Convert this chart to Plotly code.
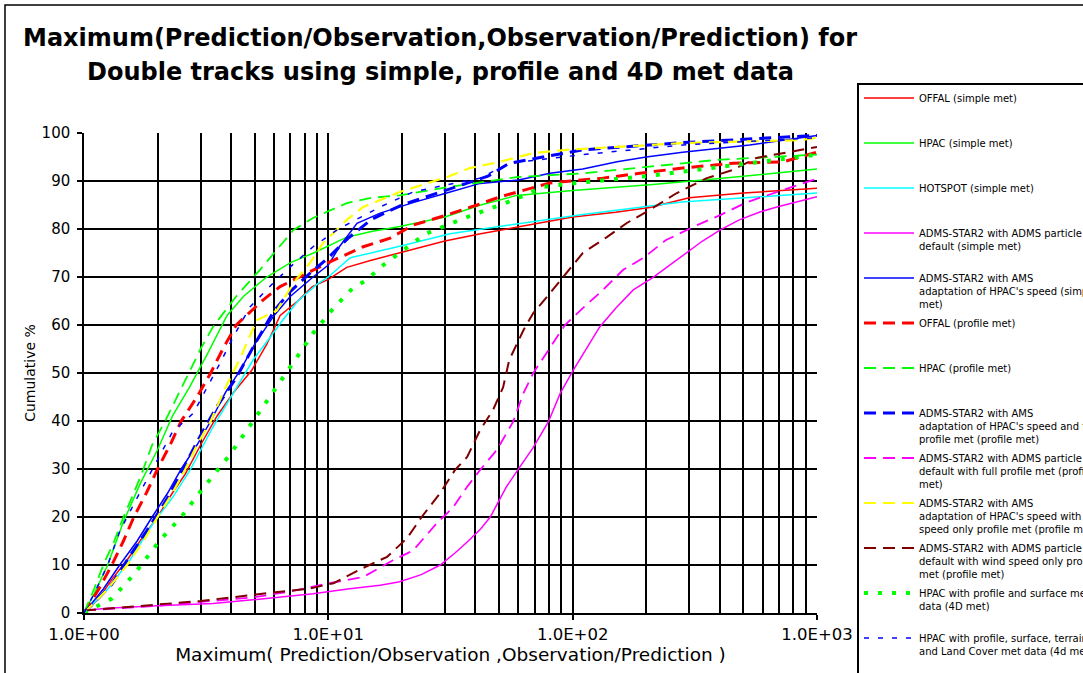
import plotly.graph_objects as go

# ---------------- data ----------------
offal_simple_x = [1, 1.15, 1.3, 1.5, 1.75, 2.0, 2.3, 2.6, 3.0, 3.5, 4.1, 4.85, 5.6, 6.35, 7.5, 8.6, 10, 11.9, 15, 19.6, 30, 42, 60, 100, 150, 207, 300, 500, 1000]
offal_simple_y = [0, 3, 7, 11, 16, 20, 25, 29, 35, 41, 46, 50.5, 56, 62, 65, 68, 69.5, 72, 73.5, 75, 77.5, 79, 80.5, 82.5, 83.5, 84.5, 86.5, 87.5, 88.5]

hpac_simple_x = [1, 1.1, 1.25, 1.45, 1.7, 2.0, 2.3, 2.7, 3.2, 3.85, 4.5, 5.6, 7, 8.7, 11.9, 15, 19.6, 30, 42, 59, 100, 207, 400, 1000]
hpac_simple_y = [0, 4, 10, 19, 27, 34, 41, 47, 54, 62, 66, 70, 73, 75, 78.3, 79.5, 80.5, 82.5, 85, 87, 88, 89.2, 90.5, 92.5]

hotspot_simple_x = [1, 1.25, 1.54, 1.92, 2.3, 2.72, 3.37, 4.08, 4.92, 5.5, 6.5, 7.5, 9, 10, 12.3, 20, 31.5, 50, 110, 280, 500, 1000]
hotspot_simple_y = [0, 5, 11, 18.75, 24, 29.8, 38.75, 45.8, 52.7, 56, 61, 65, 68.5, 70, 74, 76.5, 79, 80.5, 83, 85.6, 86.5, 87.5]

adms_def_simple_x = [1, 1.24, 2, 3.37, 4.78, 8.66, 12, 16.3, 19.6, 24, 28.7, 33, 37, 42, 46, 53.6, 60.7, 68.8, 79.5, 89, 100.6, 115, 129, 150, 177, 212, 250, 282, 340, 402, 481, 580, 685, 1000]
adms_def_simple_y = [0.5, 1, 1.5, 2, 2.7, 4, 5, 5.8, 6.5, 8, 10, 12.5, 14.8, 17.5, 20, 26.3, 30.4, 34.4, 39.8, 45.8, 50.6, 55.5, 59.6, 63.5, 67.3, 69.8, 72.5, 74.6, 77.5, 79.8, 81.9, 83.5, 84.6, 86.7]

adms_ams_simple_x = [1, 1.2, 1.4, 1.65, 1.9, 2.2, 2.5, 2.9, 3.3, 3.8, 4.35, 5, 6, 7, 8.66, 10, 11.1, 13.1, 16.3, 22.2, 30.5, 41.8, 60, 80.8, 110, 152, 200, 282, 530, 1000]
adms_ams_simple_y = [0, 5, 10, 15, 20, 25, 30, 35, 40, 46, 50.5, 56, 62, 66, 70, 72.5, 76.3, 81.2, 83.3, 85.5, 87.5, 89.5, 90.2, 91.6, 92.5, 94, 95, 96, 97.5, 99.5]

offal_prof_x = [1, 1.15, 1.3, 1.45, 1.6, 1.8, 2.0, 2.25, 2.5, 2.9, 3.3, 3.7, 4.2, 5.4, 6.35, 8.66, 10, 13.9, 17.9, 22.2, 30.5, 40.6, 50.4, 80.8, 133, 188, 282, 452, 730, 1000]
offal_prof_y = [0, 5, 10, 15, 20, 25, 30, 35, 40, 45, 50, 55, 60, 65.2, 68, 71.5, 73, 76.3, 78.1, 80.8, 82.9, 85, 86.7, 89.6, 90.6, 91.6, 92.7, 93.7, 94, 96]

hpac_prof_x = [1, 1.1, 1.2, 1.33, 1.45, 1.6, 1.75, 1.9, 2.15, 2.4, 2.7, 3.0, 3.37, 4.2, 5.25, 6.2, 7.2, 8.66, 11.9, 15, 19.6, 31.5, 59, 110, 207, 390, 1000]
hpac_prof_y = [0, 5, 10, 15, 20, 25, 30, 35, 40, 45, 50, 55, 59.6, 66, 71.5, 76, 79.8, 82.3, 85.4, 86.5, 87, 88.8, 90.8, 91.6, 93, 94.4, 95.5]

adms_ams_full_x = [1, 1.3, 1.5, 1.8, 2.2, 2.6, 3.0, 3.5, 4.2, 5, 6, 7, 8.5, 10, 12, 15, 20, 30, 45, 55, 110, 282, 1000]
adms_ams_full_y = [0, 6, 11, 17, 24, 31, 37, 43, 49, 56, 63, 67, 71, 74, 78, 82, 85, 88, 91, 93.7, 96.5, 98, 99.5]

adms_def_full_x = [1, 1.5, 2, 3, 5, 7, 10.1, 13.9, 18.4, 22.2, 27.8, 32.4, 37, 41.8, 49, 57, 62.9, 69, 80, 93, 110, 133, 161, 195, 241, 323, 402, 517, 725, 1000]
adms_def_full_y = [0.5, 1, 1.5, 2.3, 3.3, 4.5, 6.2, 7.5, 11, 13, 18.7, 22, 26.3, 29.8, 34, 39.8, 45.8, 50, 55, 60, 63.5, 67.3, 71.5, 74, 77.7, 80.8, 82.9, 85.6, 88.1, 90.5]

adms_ams_wind_x = [1, 1.25, 1.5, 1.75, 2, 2.3, 2.6, 2.9, 3.3, 3.8, 4.35, 5.1, 6.15, 7.2, 8.4, 9.5, 11.9, 13.9, 19.6, 30.5, 38, 50.4, 68.8, 94.5, 152, 282, 390, 850, 1000]
adms_ams_wind_y = [0, 5, 10, 15, 20, 25, 30, 35, 40, 47, 53, 61, 63, 68.75, 72.9, 77, 81.9, 84.6, 87.7, 90.8, 92.7, 94, 95.8, 96.5, 97.1, 97.9, 98.1, 98.5, 99]

adms_def_wind_x = [1, 1.3, 2, 3, 5.77, 8.2, 10.5, 13.9, 17.4, 21, 24.1, 28.7, 33, 37, 41.8, 47.2, 51.9, 55, 63, 69, 81, 95, 110, 138, 166, 207, 267, 354, 452, 566, 778, 1000]
adms_def_wind_y = [0.5, 1, 1.8, 2.5, 4.2, 5, 6.2, 9.4, 11.7, 15.6, 20, 25, 29.8, 32.5, 38.1, 42.3, 47, 52.7, 59, 62.5, 66.7, 71, 75, 78.3, 81.2, 84, 87.5, 90.6, 92.3, 94.8, 96, 97.1]

hpac_4d_x = [1, 1.3, 1.6, 2.05, 2.5, 3.07, 3.96, 5.1, 6.85, 8.66, 10.5, 12.6, 14.4, 16.3, 18.4, 25, 37, 57, 76, 100, 200, 400, 1000]
hpac_4d_y = [0, 3, 8, 15.2, 20, 26, 33, 41, 50.6, 58.3, 63.5, 67.7, 69.4, 72, 74, 79, 82.5, 86, 88.8, 89.5, 91, 93, 95.5]

hpac_4d_terr_x = [1, 1.1, 1.25, 1.4, 1.65, 2, 2.3, 2.8, 3.2, 3.6, 4.08, 4.78, 5.95, 6.95, 8.66, 11, 16.3, 22.2, 30.5, 41.8, 55, 110, 282, 1000]
hpac_4d_terr_y = [0, 4, 10, 17, 24, 32, 37.7, 41.6, 47, 52, 57.5, 63.75, 68.75, 72, 76.3, 80, 84.6, 87.7, 89.2, 90.6, 93.7, 95.5, 97.5, 99]

legend_labels = [
    "OFFAL (simple met)",
    "HPAC (simple met)",
    "HOTSPOT (simple met)",
    "ADMS-STAR2 with ADMS particle<br>default (simple met)",
    "ADMS-STAR2 with AMS<br>adaptation of HPAC's speed (simple<br>met)",
    "OFFAL (profile met)",
    "HPAC (profile met)",
    "ADMS-STAR2 with AMS<br>adaptation of HPAC's speed and full<br>profile met (profile met)",
    "ADMS-STAR2 with ADMS particle<br>default with full profile met (profile<br>met)",
    "ADMS-STAR2 with AMS<br>adaptation of HPAC's speed with wind<br>speed only profile met (profile met)",
    "ADMS-STAR2 with ADMS particle<br>default with wind speed only profile<br>met (profile met)",
    "HPAC with profile and surface met<br>data (4D met)",
    "HPAC with profile, surface, terrain,<br>and Land Cover met data (4d met)",
]

title_line1 = "Maximum(Prediction/Observation,Observation/Prediction) for"
title_line2 = "Double tracks using simple, profile and 4D met data"
x_title = "Maximum( Prediction/Observation ,Observation/Prediction )"
y_title = "Cumulative %"

x_tick_vals = [1, 10, 100, 1000]
x_tick_text = ["1.0E+00", "1.0E+01", "1.0E+02", "1.0E+03"]
x_minor_vals = [m * d for d in (1, 10, 100) for m in range(2, 10)]

series = [
    (offal_simple_x, offal_simple_y, "#FF0000", 1.5, "solid"),
    (hpac_simple_x, hpac_simple_y, "#00FF00", 1.5, "solid"),
    (hotspot_simple_x, hotspot_simple_y, "#00FFFF", 1.5, "solid"),
    (adms_def_simple_x, adms_def_simple_y, "#FF00FF", 1.5, "solid"),
    (adms_ams_simple_x, adms_ams_simple_y, "#0000FF", 1.5, "solid"),
    (offal_prof_x, offal_prof_y, "#FF0000", 3, "12px,7px"),
    (hpac_prof_x, hpac_prof_y, "#00FF00", 1.8, "12px,7px"),
    (adms_ams_full_x, adms_ams_full_y, "#0000FF", 3, "12px,7px"),
    (adms_def_full_x, adms_def_full_y, "#FF00FF", 1.8, "12px,7px"),
    (adms_ams_wind_x, adms_ams_wind_y, "#FFFF00", 2.2, "12px,7px"),
    (adms_def_wind_x, adms_def_wind_y, "#800000", 2, "12px,7px"),
    (hpac_4d_x, hpac_4d_y, "#00FF00", 4, "4px,10px"),
    (hpac_4d_terr_x, hpac_4d_terr_y, "#0000FF", 1.5, "5px,9px"),
]

fig = go.Figure()
for i, ((xs, ys, col, w, dash), lab) in enumerate(zip(series, legend_labels)):
    nlines = lab.count("<br>") + 1
    padded = lab + "<br> " * (3 - nlines)
    fig.add_trace(go.Scatter(
        x=xs, y=ys, mode="lines", name=padded, legendgroup=f"g{i}",
        line=dict(color=col, width=w, dash=dash),
    ))

# plot area in pixels: x 84..817, y 133..613
L, R, T, B = 84, 817, 133, 613
W, H = 1083, 673
pw, ph = R - L, B - T

fig.update_layout(
    width=W, height=H,
    margin=dict(l=L, r=W - R, t=T, b=H - B, autoexpand=False),
    paper_bgcolor="white", plot_bgcolor="white",
    font=dict(family="DejaVu Sans", color="black"),
    title=dict(
        text=title_line1,
        x=440 / W, xanchor="center", xref="container",
        y=1 - 38 / H, yanchor="middle", yref="container",
        font=dict(family="DejaVu Sans", size=24, color="black", weight="bold"),
    ),
    xaxis=dict(
        type="log", range=[0, 3],
        tickmode="array", tickvals=x_tick_vals, ticktext=x_tick_text,
        tickfont=dict(size=16.5, color="black"),
        showgrid=True, gridcolor="black", gridwidth=1.5,
        ticks="outside", ticklen=5, tickwidth=1.5, tickcolor="black",
        showline=True, linecolor="black", linewidth=1.5,
        zeroline=False,
        minor=dict(tickmode="array", tickvals=x_minor_vals, showgrid=True,
                   gridcolor="black", gridwidth=1.5, ticks=""),
        title=dict(text=x_title, font=dict(size=18.5, color="black"), standoff=0),
    ),
    yaxis=dict(
        range=[0, 100], tickmode="linear", tick0=0, dtick=10,
        tickfont=dict(size=15, color="black"),
        showgrid=True, gridcolor="black", gridwidth=1.5,
        ticks="outside", ticklen=5, tickwidth=1.5, tickcolor="black",
        showline=True, linecolor="black", linewidth=1.5,
        zeroline=False, ticklabelstandoff=4,
        title=dict(text=y_title, font=dict(size=14, color="black"), standoff=3),
    ),
    legend=dict(
        x=(857 - L) / pw, y=(B - 83) / ph, xanchor="left", yanchor="top",
        bordercolor="black", borderwidth=2, bgcolor="white",
        font=dict(family="DejaVu Sans", size=10, color="black"),
        itemwidth=50, tracegroupgap=3, valign="top", traceorder="grouped",
        maxheight=800,
    ),
    showlegend=True,
)

# second title line
fig.add_annotation(text=title_line2, xref="paper", yref="paper",
                   x=(440 - L) / pw, y=(B - 72) / ph, xanchor="center", yanchor="middle",
                   showarrow=False,
                   font=dict(family="DejaVu Sans", size=24, color="black", weight="bold"))

# outer chart frame
fig.add_shape(type="rect", xref="paper", yref="paper",
              x0=(5 - L) / pw, x1=(W + 50 - L) / pw,
              y0=(B - (H + 50)) / ph, y1=(B - 5) / ph,
              line=dict(color="black", width=1.5), fillcolor="rgba(0,0,0,0)", layer="below")

fig.write_html("out.html", config={"displayModeBar": False},
               post_script="document.body.style.margin='0';")
